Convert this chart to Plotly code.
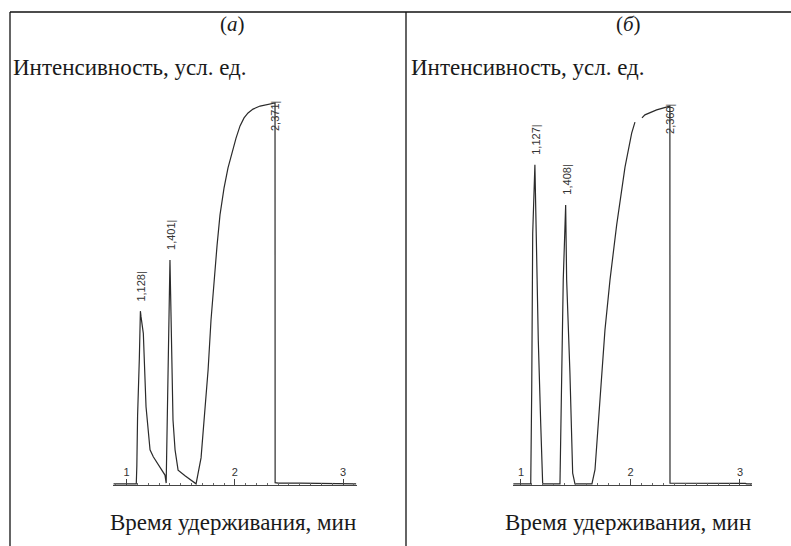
import plotly.graph_objects as go

W, H = 791, 546

# ---- Data: chromatogram (a) ----
t_a = [0.88, 1.090, 1.095, 1.102, 1.118, 1.128, 1.134, 1.155, 1.180, 1.201, 1.217, 1.247, 1.309, 1.355, 1.366,
       1.372, 1.380, 1.390, 1.401, 1.407, 1.417, 1.429, 1.448, 1.476, 1.540, 1.614,
       1.642, 1.688, 1.725, 1.753, 1.780, 1.808, 1.836, 1.863, 1.900, 1.937, 1.974, 2.011, 2.048,
       2.085, 2.122, 2.168, 2.233, 2.307, 2.371, 2.372, 2.40, 2.60, 2.85, 2.86, 3.12]
i_a = [0.3, 0.3, 5.0, 18.0, 33.0, 45.5, 44.0, 39.7, 20.5, 13.6, 9.2, 7.4, 4.8, 2.6, 0.5,
       12.0, 30.0, 50.0, 58.9, 50.0, 35.0, 17.0, 9.2, 3.9, 2.4, 0.8,
       0.3, 7.1, 19.6, 30.1, 43.2, 53.7, 62.8, 70.7, 77.7, 83.0, 87.2, 90.8, 94.0,
       96.1, 97.4, 98.4, 99.2, 99.7, 100.0, 0.6, 0.5, 0.5, 0.4, 0.3, 0.3]

# ---- Data: chromatogram (b) ----
t_b = [0.93, 1.089, 1.098, 1.107, 1.127, 1.137, 1.158, 1.180, 1.198, 1.356, 1.372, 1.386, 1.408, 1.417,
       1.447, 1.472, 1.493, 1.648, 1.676, 1.703, 1.731, 1.767, 1.813, 1.874, 1.950, 2.011, 2.041,
       None, 2.105, 2.132, 2.239, 2.360, 2.361, 2.40, 2.70, 3.05, 3.06, 3.11]
i_b = [0.3, 0.3, 24.9, 65.9, 83.8, 65.9, 37.9, 16.2, 0.3, 0.3, 24.9, 53.7, 73.3, 53.7,
       29.3, 3.1, 0.3, 0.3, 4.0, 14.4, 26.2, 40.6, 53.7, 68.1, 83.2, 92.1, 95.0,
       None, 96.1, 96.9, 98.2, 99.2, 0.5, 0.5, 0.5, 0.4, 0.3, 0.3]

peaks_a = [1.128, 1.401, 2.371]
peak_h_a = [45.5, 58.9, 100.0]
labels_a = ["1,128|", "1,401|", "2,371|"]
peaks_b = [1.127, 1.408, 2.360]
peak_h_b = [83.8, 73.3, 99.2]
labels_b = ["1,127|", "1,408|", "2,360|"]

tick_vals = [1, 2, 3]
tick_text = ["1", "2", "3"]

panel_titles = ["(<i>а</i>)", "(<i>б</i>)"]
y_title = "Интенсивность, усл. ед."
x_title = "Время удерживания, мин"

SERIF = "Liberation Serif"
SANS = "Liberation Sans"

fig = go.Figure()
line_color = "#2b2b2b"
fig.add_trace(go.Scatter(x=t_a, y=i_a, mode="lines", line=dict(color=line_color, width=1.2),
                         xaxis="x", yaxis="y", showlegend=False, connectgaps=False))
fig.add_trace(go.Scatter(x=t_b, y=i_b, mode="lines", line=dict(color=line_color, width=1.2),
                         xaxis="x2", yaxis="y2", showlegend=False, connectgaps=False))

ydom = [1 - 485 / H, 1 - 95 / H]
yrange = [0, (485 - 95) / 3.82]

xaxis_common = dict(
    showline=True, linecolor="#444", linewidth=1, showgrid=False, zeroline=False,
    tickmode="array", tickvals=tick_vals, ticktext=tick_text,
    ticks="inside", ticklen=6, tickcolor="#444", tickwidth=1,
    ticklabelposition="inside",
    tickfont=dict(family=SANS, size=11, color="#333"),
    minor=dict(dtick=0.1, tick0=0, ticks="inside", ticklen=2, tickcolor="#666", tickwidth=1),
)
yaxis_common = dict(visible=False, showgrid=False, zeroline=False, range=yrange, domain=ydom)

fig.update_layout(
    width=W, height=H, margin=dict(l=0, r=0, t=0, b=0),
    paper_bgcolor="white", plot_bgcolor="white",
    font=dict(family=SERIF),
    xaxis=dict(domain=[113 / W, 357 / W], range=[0.875, 3.128], anchor="y", **xaxis_common),
    yaxis=dict(anchor="x", **yaxis_common),
    xaxis2=dict(domain=[513 / W, 752 / W], range=[0.927, 3.110], anchor="y2", **xaxis_common),
    yaxis2=dict(anchor="x2", **yaxis_common),
)

# frame lines
frame = dict(color="#111", width=1.3)
fig.add_shape(type="line", xref="paper", yref="paper", x0=10 / W, x1=1, y0=1 - 12 / H, y1=1 - 12 / H, line=frame)
fig.add_shape(type="line", xref="paper", yref="paper", x0=10 / W, x1=10 / W, y0=0, y1=1 - 12 / H, line=frame)
fig.add_shape(type="line", xref="paper", yref="paper", x0=406 / W, x1=406 / W, y0=0, y1=1 - 12 / H, line=frame)

serif = dict(family=SERIF, size=23, color="#1a1a1a")
for cx, title in zip([232, 628], panel_titles):
    fig.add_annotation(x=cx / W, y=1 - 24 / H, xref="paper", yref="paper", text=title, showarrow=False,
                       font=dict(family=SERIF, size=21, color="#1a1a1a"),
                       xanchor="center", yanchor="middle")
for lx in [11, 409]:
    fig.add_annotation(x=lx / W, y=1 - 67 / H, xref="paper", yref="paper", text=y_title, showarrow=False,
                       font=serif, xanchor="left", yanchor="middle")
for cx in [233, 628]:
    fig.add_annotation(x=cx / W, y=1 - 522 / H, xref="paper", yref="paper", text=x_title, showarrow=False,
                       font=serif, xanchor="center", yanchor="middle")

lab_font = dict(family=SANS, size=11, color="#333")
for xr, yr, pk, ph, lb in [("x", "y", peaks_a, peak_h_a, labels_a), ("x2", "y2", peaks_b, peak_h_b, labels_b)]:
    for j, (p, h, t) in enumerate(zip(pk, ph, lb)):
        if j < 2:
            fig.add_annotation(x=p, y=h, xref=xr, yref=yr, text=t, showarrow=False, textangle=-90,
                               font=lab_font, xanchor="center", yanchor="bottom", yshift=8, xshift=1)
        else:
            fig.add_annotation(x=p, y=h, xref=xr, yref=yr, text=t, showarrow=False, textangle=-90,
                               font=lab_font, xanchor="center", yanchor="top", yshift=4, xshift=0,
                               bgcolor="rgba(255,255,255,0)")

fig.write_html("out.html")
